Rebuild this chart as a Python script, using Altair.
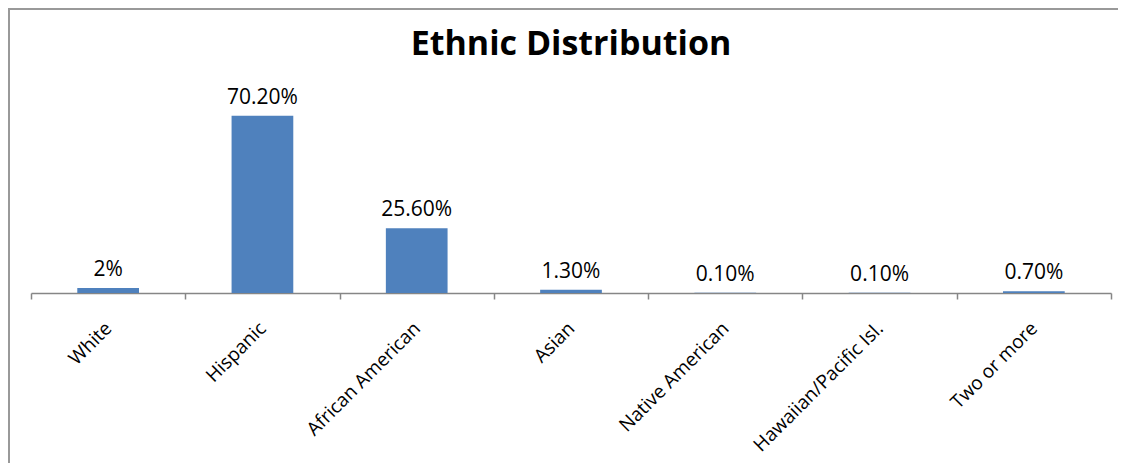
import altair as alt
import pandas as pd

categories = ["White", "Hispanic", "African American", "Asian",
              "Native American", "Hawaiian/Pacific Isl.", "Two or more"]
values = [2.0, 70.2, 25.6, 1.3, 0.1, 0.1, 0.7]
value_labels = ["2%", "70.20%", "25.60%", "1.30%", "0.10%", "0.10%", "0.70%"]

df = pd.DataFrame({"cat": categories, "val": values, "lab": value_labels})

FONT = "Open Sans"

x_enc = alt.X("cat:N", sort=categories, title=None,
              scale=alt.Scale(paddingInner=0, paddingOuter=0),
              axis=alt.Axis(labelAngle=-45, labelAlign="right", labelBaseline="middle",
                            labelPadding=26, labelFontSize=19, labelFont=FONT,
                            labelColor="#000000", tickBand="extent", tickSize=6,
                            domainColor="#868686", tickColor="#868686", labelLimit=400,
                            domainWidth=1.5, tickWidth=1.5, labelOverlap=False))
y_enc = alt.Y("val:Q", scale=alt.Scale(domain=[0, 80]), axis=None)

bars = alt.Chart(df).mark_bar(color="#4F81BD", width=alt.RelativeBandSize(0.4)).encode(
    x=x_enc, y=y_enc)

texts = alt.Chart(df).mark_text(font=FONT, fontSize=21, dy=-12, baseline="alphabetic",
                                color="#000000").encode(
    x=alt.X("cat:N", sort=categories), y="val:Q", text="lab:N")

frame = alt.Chart(df).mark_rect(fill=None, stroke="#999999", strokeWidth=2).encode(
    x=alt.value(-22), x2=alt.value(1300), y=alt.value(-82), y2=alt.value(600))

chart = alt.layer(frame, bars, texts).properties(
    width=1080, height=202,
    title=alt.TitleParams("Ethnic Distribution", fontSize=34, fontWeight="bold",
                          font=FONT, anchor="middle", offset=-81, baseline="alphabetic",
                          frame="group", color="#000000"),
    autosize=alt.AutoSizeParams(type="none"),
    padding={"left": 23, "top": 83, "right": 7, "bottom": 170},
).configure_view(stroke=None)

chart.save("out.html", embed_options={"renderer": "svg", "actions": False})
